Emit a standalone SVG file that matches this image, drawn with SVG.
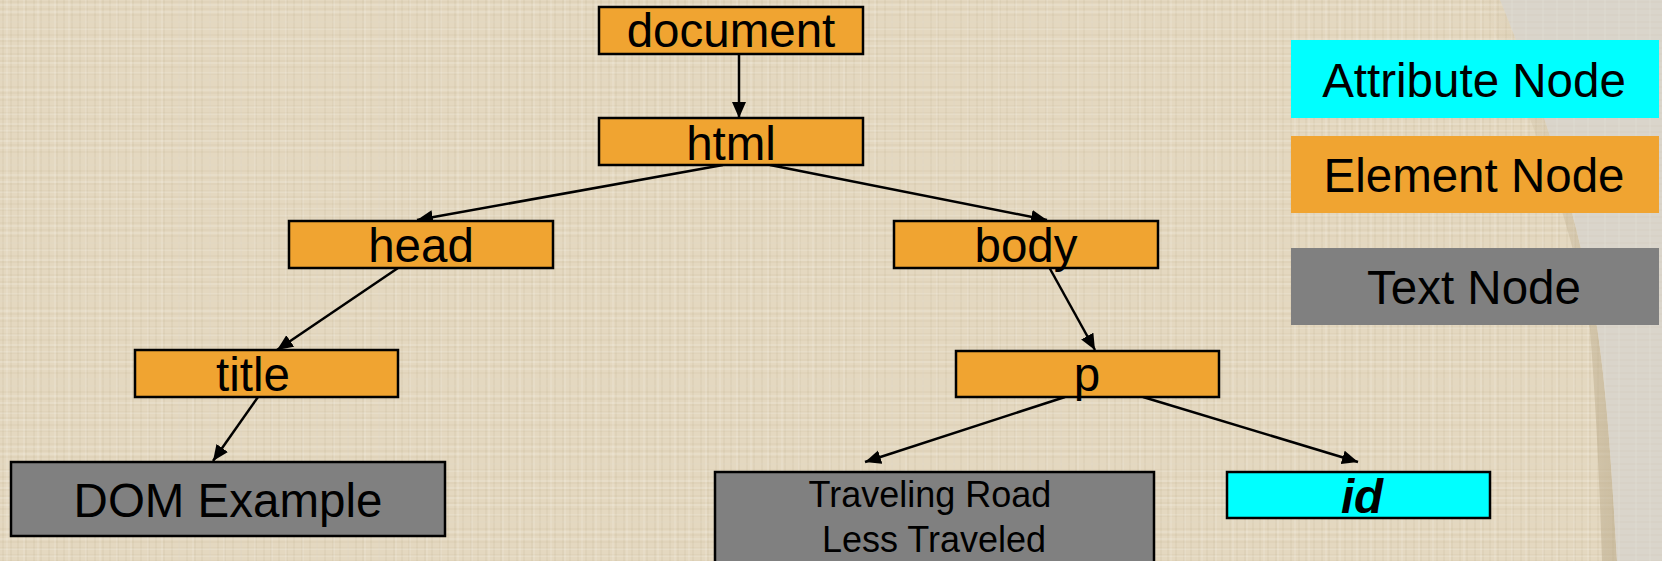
<svg xmlns="http://www.w3.org/2000/svg" width="1662" height="561" viewBox="0 0 1662 561">
<defs>
<style>
.el{fill:#F0A431;stroke:#000;stroke-width:2.5}
.tx{fill:#808080;stroke:#000;stroke-width:2.5}
.at{fill:#00FFFF;stroke:#000;stroke-width:2.5}
.lbl{font-family:"Liberation Sans",Arial,sans-serif;font-size:47.5px;fill:#000;text-anchor:middle}
.small{font-size:36px}
.conn{stroke:#000;stroke-width:2.5;fill:none;marker-end:url(#arr)}
</style>
<marker id="arr" markerUnits="userSpaceOnUse" markerWidth="18" markerHeight="16" refX="16" refY="7" orient="auto">
<path d="M0,0 L16,7 L0,14 z" fill="#000"/>
</marker>
<pattern id="texA" width="23" height="17" patternUnits="userSpaceOnUse">
<path d="M3,0 V17 M11,0 V17 M18,0 V17" stroke="#9C8A66" stroke-opacity="0.13" stroke-width="1.2"/>
<path d="M0,5 H23 M0,12 H23" stroke="#FFFFFF" stroke-opacity="0.25" stroke-width="1"/>
</pattern>
<pattern id="texB" width="31" height="13" patternUnits="userSpaceOnUse">
<path d="M0,2 H31 M0,9 H31" stroke="#9C8A66" stroke-opacity="0.12" stroke-width="1.2"/>
<path d="M7,0 V13 M24,0 V13" stroke="#FFFFFF" stroke-opacity="0.22" stroke-width="1"/>
</pattern>
<linearGradient id="shade" x1="0" y1="0" x2="1" y2="0">
<stop offset="0" stop-color="#C8B89A" stop-opacity="0"/>
<stop offset="1" stop-color="#B8A888" stop-opacity="0.55"/>
</linearGradient>
</defs>
<g id="background">
<rect x="0" y="0" width="1662" height="561" fill="#E4D8C0"/>
<rect x="0" y="0" width="1662" height="561" fill="url(#texA)"/>
<rect x="0" y="0" width="1662" height="561" fill="url(#texB)"/>
<path d="M1480,0 C1530,110 1575,230 1590,330 C1597,420 1600,500 1602,561 L1617,561 C1612,480 1608,400 1597,327 C1580,230 1550,120 1500,0 z" fill="url(#shade)"/>
<path d="M1500,0 C1550,120 1580,230 1597,327 C1608,400 1612,480 1617,561 L1662,561 L1662,0 z" fill="#DAD5CB"/>
<path d="M1500,0 C1550,120 1580,230 1597,327 C1608,400 1612,480 1617,561 L1662,561 L1662,0 z" fill="url(#texB)" opacity="0.6"/>
</g>
<g id="connectors">
<line class="conn" x1="739" y1="55" x2="739" y2="118"/>
<line class="conn" x1="723" y1="165" x2="417" y2="220"/>
<line class="conn" x1="770" y1="165" x2="1047" y2="220"/>
<line class="conn" x1="398" y1="268" x2="277" y2="350"/>
<line class="conn" x1="258" y1="397" x2="213" y2="461"/>
<line class="conn" x1="1049" y1="267" x2="1095" y2="350"/>
<line class="conn" x1="1065" y1="397" x2="865" y2="462"/>
<line class="conn" x1="1143" y1="397" x2="1358" y2="462"/>
</g>
<g id="node-document"><rect class="el" x="599" y="7" width="264" height="47"/><text class="lbl" x="731" y="47">document</text></g>
<g id="node-html"><rect class="el" x="599" y="118" width="264" height="47"/><text class="lbl" x="731" y="160">html</text></g>
<g id="node-head"><rect class="el" x="289" y="221" width="264" height="47"/><text class="lbl" x="421" y="262">head</text></g>
<g id="node-body"><rect class="el" x="894" y="221" width="264" height="47"/><text class="lbl" x="1026" y="262">body</text></g>
<g id="node-title"><rect class="el" x="135" y="350" width="263" height="47"/><text class="lbl" x="253" y="391">title</text></g>
<g id="node-p"><rect class="el" x="956" y="351" width="263" height="46"/><text class="lbl" x="1087" y="391">p</text></g>
<g id="node-dom-example"><rect class="tx" x="11" y="462" width="434" height="74"/><text class="lbl" x="228" y="517">DOM Example</text></g>
<g id="node-traveling"><rect class="tx" x="715" y="472" width="439" height="100"/><text class="lbl small" x="930" y="507">Traveling Road</text><text class="lbl small" x="934" y="552">Less Traveled</text></g>
<g id="node-id"><rect class="at" x="1227" y="472" width="263" height="46"/><text class="lbl" x="1362" y="513" font-weight="bold" font-style="italic">id</text></g>
<g id="legend">
<g id="legend-attribute"><rect x="1291" y="40" width="368" height="78" fill="#00FFFF"/><text class="lbl" x="1474" y="97">Attribute Node</text></g>
<g id="legend-element"><rect x="1291" y="136" width="368" height="77" fill="#F0A431"/><text class="lbl" x="1474" y="192">Element Node</text></g>
<g id="legend-text"><rect x="1291" y="248" width="368" height="77" fill="#808080"/><text class="lbl" x="1474" y="304">Text Node</text></g>
</g>
</svg>
